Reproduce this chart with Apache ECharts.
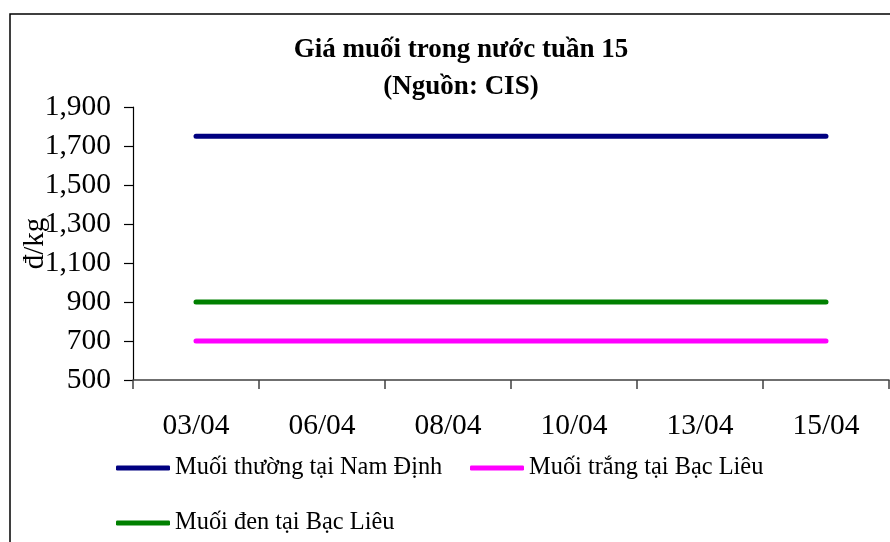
<!DOCTYPE html>
<html>
<head>
<meta charset="utf-8">
<script src="https://cdn.jsdelivr.net/npm/echarts@6/dist/echarts.min.js"></script>
<style>
html,body{margin:0;padding:0;background:#fff;}
#chart{width:890px;height:542px;}
</style>
</head>
<body>
<div id="chart"></div>
<script>
const categories = ['03/04', '06/04', '08/04', '10/04', '13/04', '15/04'];
const namDinhThuong = [1750, 1750, 1750, 1750, 1750, 1750];
const bacLieuTrang = [700, 700, 700, 700, 700, 700];
const bacLieuDen = [900, 900, 900, 900, 900, 900];
const seriesNames = ['Muối thường tại Nam Định', 'Muối trắng tại Bạc Liêu', 'Muối đen tại Bạc Liêu'];
const seriesColors = ['#000080', '#FF00FF', '#008000'];

const FONT = '"Liberation Serif", "Times New Roman", serif';
const chart = echarts.init(document.getElementById('chart'), null, {renderer: 'canvas'});

function lineSeries(name, data, color) {
  return {
    name: name, type: 'line', data: data, symbol: 'none',
    lineStyle: {color: color, width: 5, cap: 'round'},
    itemStyle: {color: color},
    animation: false
  };
}
function legendFor(name, left, top) {
  return {
    data: [name], left: left, top: top, orient: 'horizontal',
    icon: 'roundRect', itemWidth: 54, itemHeight: 5, itemGap: 0, padding: 0,
    textStyle: {fontFamily: FONT, fontSize: 24.4, color: '#000'}
  };
}

chart.setOption({
  backgroundColor: '#fff',
  animation: false,
  title: {
    text: 'Giá muối trong nước tuần 15\n(Nguồn: CIS)',
    left: 456, textAlign: 'center', top: 27,
    textStyle: {fontFamily: FONT, fontSize: 27, fontWeight: 'bold', color: '#000', lineHeight: 37}
  },
  graphic: [{
    type: 'rect', shape: {x: 10, y: 14, width: 900, height: 600},
    style: {fill: 'none', stroke: '#000', lineWidth: 1.5}, silent: true, z: -1
  }],
  legend: [
    legendFor(seriesNames[0], 116, 456),
    legendFor(seriesNames[1], 470, 456),
    legendFor(seriesNames[2], 116, 511)
  ],
  grid: {left: 133, right: 1, top: 107, bottom: 162, containLabel: false, outerBoundsMode: 'none'},
  xAxis: {
    type: 'category', data: categories, boundaryGap: true,
    axisLine: {lineStyle: {color: '#404040', width: 1.5}},
    axisTick: {show: true, length: 9, lineStyle: {color: '#404040', width: 1.5}},
    axisLabel: {fontFamily: FONT, fontSize: 29.5, color: '#000', margin: 31}
  },
  yAxis: {
    type: 'value', min: 500, max: 1900, interval: 200,
    name: 'đ/kg', nameLocation: 'middle', nameGap: 83, nameRotate: 90,
    nameMoveOverlap: false,
    nameTextStyle: {fontFamily: FONT, fontSize: 29, color: '#000'},
    axisLine: {show: true, lineStyle: {color: '#000', width: 1.2}},
    axisTick: {show: true, length: 9, lineStyle: {color: '#000', width: 1.2}},
    splitLine: {show: false},
    axisLabel: {fontFamily: FONT, fontSize: 29.5, color: '#000', margin: 22,
      formatter: v => v.toLocaleString('en-US')}
  },
  series: [
    lineSeries(seriesNames[0], namDinhThuong, seriesColors[0]),
    lineSeries(seriesNames[1], bacLieuTrang, seriesColors[1]),
    lineSeries(seriesNames[2], bacLieuDen, seriesColors[2])
  ]
});
</script>
</body>
</html>
